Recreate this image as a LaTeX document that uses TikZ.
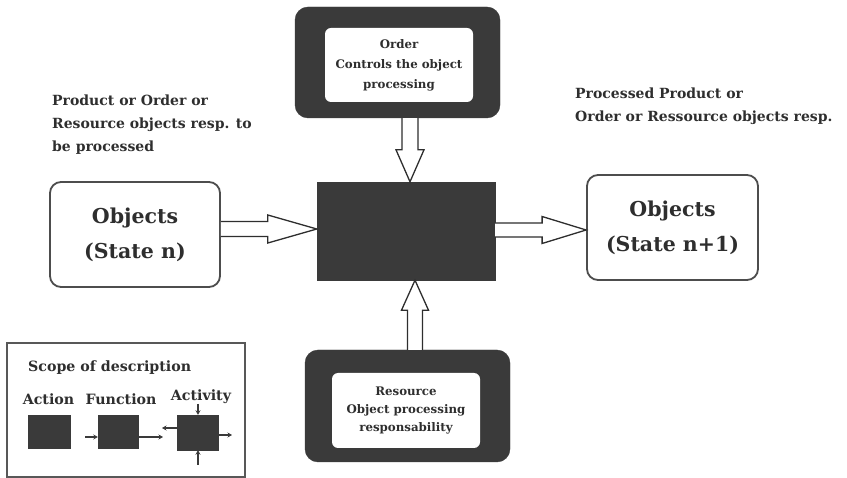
\documentclass[tikz,border=0pt]{standalone}
\usepackage{fontspec}
\setmainfont{DejaVu Serif}
\usetikzlibrary{calc,arrows.meta}
\definecolor{ink}{HTML}{2E2E2E}
\definecolor{slab}{HTML}{3A3A3A}

% hollow block arrow: from, to, half shaft width, half head width, head length
\newcommand\FatArrow[5]{%
  \path (#2) coordinate (fa-tip) ($(#2)!#5!(#1)$) coordinate (fa-base);
  \filldraw[fatarrow]
    ($(#1)!#3!90:(#2)$) -- ($(fa-base)!#3!90:(fa-tip)$)
    -- ($(fa-base)!#4!90:(fa-tip)$) -- (fa-tip)
    -- ($(fa-base)!#4!-90:(fa-tip)$) -- ($(fa-base)!#3!-90:(fa-tip)$)
    -- ($(#1)!#3!-90:(#2)$);
}

\begin{document}
\begin{tikzpicture}[x=1pt,y=-1pt,
  slabbox/.style={fill=slab, draw=slab, rounded corners=13pt, inner sep=0pt},
  cardbox/.style={fill=white, rounded corners=6pt, text=ink, align=center, inner sep=0pt},
  statebox/.style={draw=ink!85, line width=1.8pt, rounded corners=11pt, fill=white,
    text=ink, align=center, inner sep=0pt, font=\bfseries\fontsize{20.5}{35}\selectfont},
  corebox/.style={fill=slab, draw=slab, inner sep=0pt},
  fatarrow/.style={draw=ink, line width=1.3pt, fill=white, line join=miter},
  note/.style={text=ink, align=left, anchor=north west, inner sep=0pt,
    font=\bfseries\fontsize{14}{23}\selectfont},
  legendbox/.style={draw=ink!80, line width=1.6pt, fill=white, inner sep=0pt},
  swatch/.style={fill=slab, draw=slab, inner sep=0pt},
  legendtext/.style={text=ink, inner sep=0pt, font=\bfseries\fontsize{14.2}{16}\selectfont},
  tinyarrow/.style={draw=slab, line width=1.4pt, -{Stealth[length=4.5pt,width=5pt]}}
]
\useasboundingbox (0,0) rectangle (847,478);

% control (top) and mechanism (bottom) boxes
\node[slabbox, minimum width=205pt, minimum height=111pt] (orderO) at (397.5,62.5) {};
\node[cardbox, minimum width=148pt, minimum height=74pt,
  font=\bfseries\fontsize{11.8}{20}\selectfont] (orderI) at (399,65)
  {Order\\Controls the object\\processing};
\node[slabbox, minimum width=205pt, minimum height=112pt] (resO) at (407.5,406) {};
\node[cardbox, minimum width=148pt, minimum height=75pt,
  font=\bfseries\fontsize{11.8}{18}\selectfont] (resI) at (406,410.5)
  {Resource\\Object processing\\responsability};

% the processing block
\node[corebox, minimum width=178pt, minimum height=98pt] (core) at (406,231) {};

% object states
\node[statebox, minimum width=170pt, minimum height=105pt] (objL) at (135,234.5)
  {Objects\\(State n)};
\node[statebox, minimum width=171pt, minimum height=105pt] (objR) at (672.5,227.5)
  {Objects\\(State n+1)};

% notes above the object states
\node[note] (noteL) at (52,95) {Product or Order or\\Resource objects resp. to\\be processed};
\node[note] (noteR) at (575,88) {Processed Product or\\Order or Ressource objects resp.};

% hollow flow arrows
\coordinate (inA) at (objL.east |- 0,229);
\coordinate (inB) at (core.west |- 0,229);
\FatArrow{inA}{inB}{7.5pt}{14pt}{49pt}
\coordinate (outA) at (core.east |- 0,230);
\coordinate (outB) at (objR.west |- 0,230);
\FatArrow{outA}{outB}{7pt}{13.5pt}{44pt}
\coordinate (ctlA) at (orderO.south -| 410,0);
\coordinate (ctlB) at (core.north -| 410,0);
\FatArrow{ctlA}{ctlB}{8pt}{14pt}{32pt}
\coordinate (mecA) at (resO.north -| 415,0);
\coordinate (mecB) at (core.south -| 415,0);
\FatArrow{mecA}{mecB}{7.5pt}{13.5pt}{30pt}

% legend
\node[legendbox, minimum width=238pt, minimum height=134pt] (legend) at (126,410) {};
\node[legendtext, anchor=base west] (scope) at (28,372) {Scope of description};
\node[legendtext, anchor=base] (lblAction) at (48.5,405) {Action};
\node[legendtext, anchor=base] (lblFunction) at (121,405) {Function};
\node[legendtext, anchor=base] (lblActivity) at (201,401) {Activity};
\node[swatch, minimum width=42pt, minimum height=33pt] (sqAction) at (49,431.5) {};
\node[swatch, minimum width=40pt, minimum height=33pt] (sqFunction) at (118,431.5) {};
\node[swatch, minimum width=41pt, minimum height=35pt] (sqActivity) at (197.5,432.5) {};

\coordinate (fnIn) at (85,437);
\coordinate (fnOut) at (163,437);
\draw[tinyarrow] (fnIn) -- (fnIn -| sqFunction.west);
\draw[tinyarrow] (sqFunction.east |- fnOut) -- (fnOut);

\coordinate (acLeft) at (162,428);
\coordinate (acRight) at (232,435);
\coordinate (acTop) at (198,404);
\coordinate (acBottom) at (198,465);
\draw[tinyarrow] (sqActivity.west |- acLeft) -- (acLeft);
\draw[tinyarrow] (sqActivity.east |- acRight) -- (acRight);
\draw[tinyarrow] (acTop) -- (acTop |- sqActivity.north);
\draw[tinyarrow] (acBottom) -- (acBottom |- sqActivity.south);
\end{tikzpicture}
\end{document}
